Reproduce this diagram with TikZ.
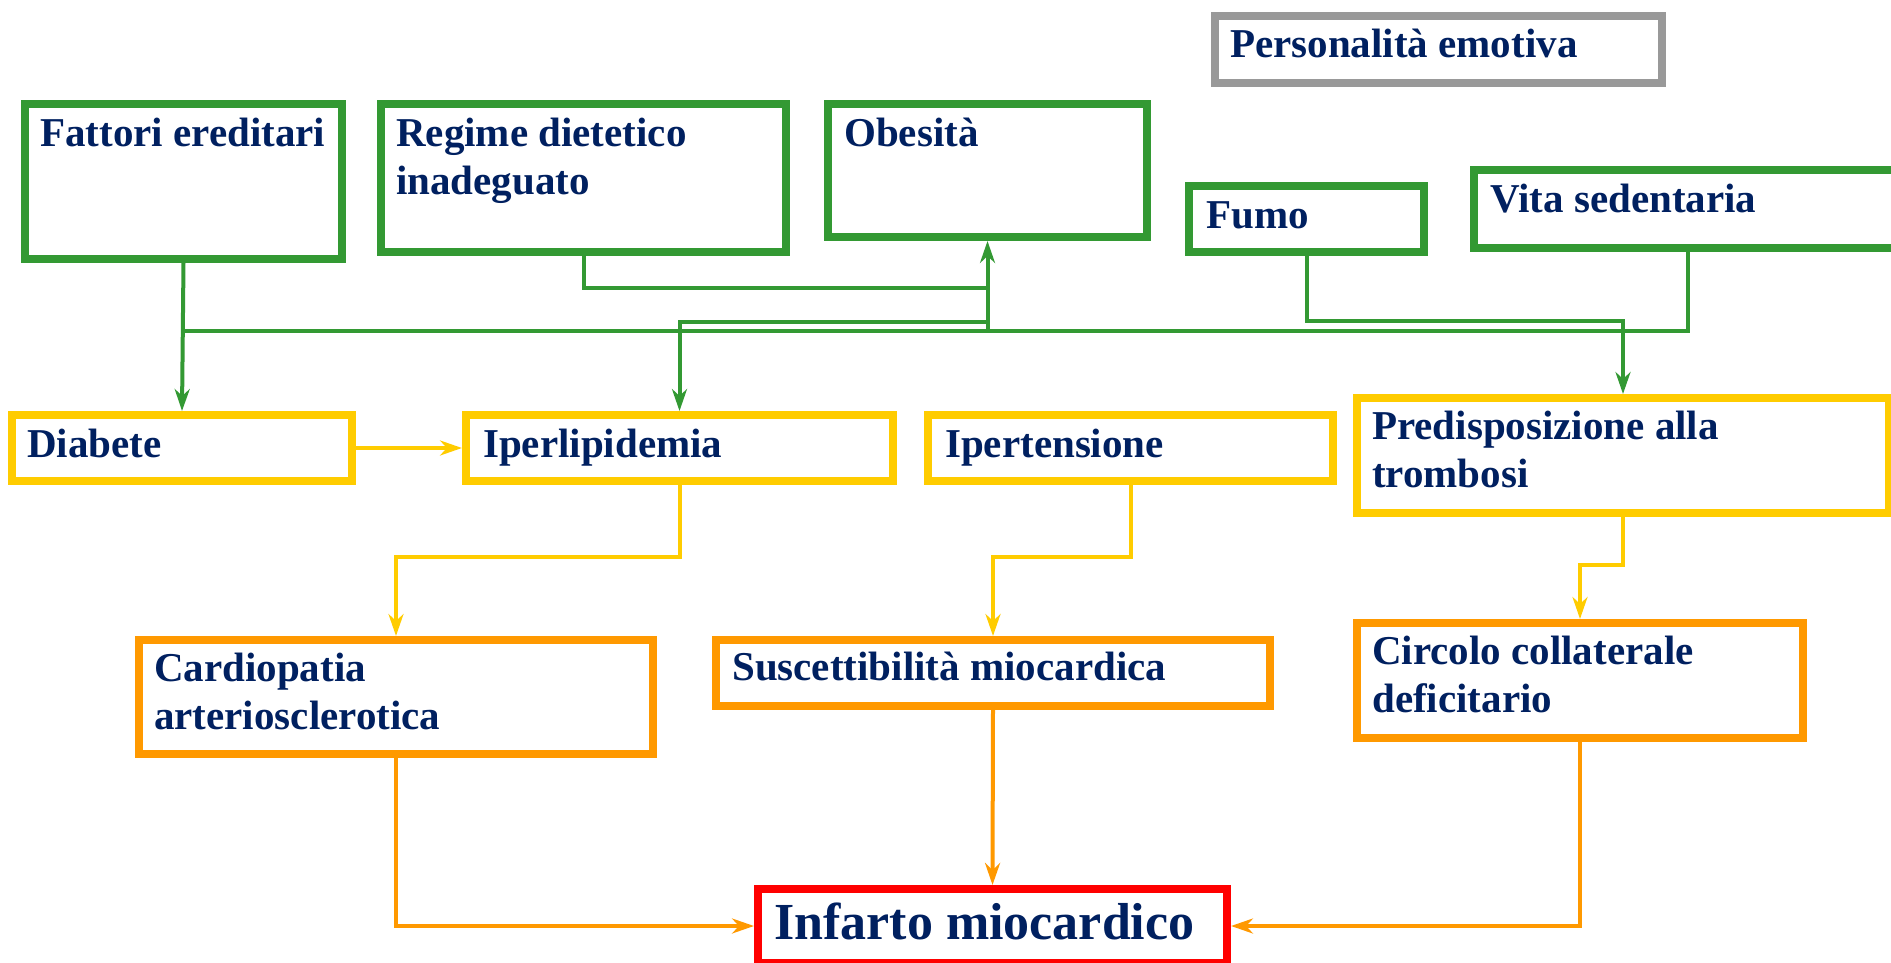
\documentclass[tikz,border=0pt]{standalone}
\usepackage{fontspec}
\setmainfont{Liberation Serif}
\usetikzlibrary{arrows.meta}
\definecolor{gr}{RGB}{51,153,51}
\definecolor{ye}{RGB}{255,204,0}
\definecolor{orc}{RGB}{255,153,0}
\definecolor{rd}{RGB}{255,0,0}
\definecolor{gy}{RGB}{153,153,153}
\definecolor{navy}{RGB}{0,32,96}
\tikzset{
 box/.style={draw=#1, line width=8pt, inner sep=0pt, anchor=north west, fill=white},
 lbl/.style={anchor=base west, inner sep=0pt, text=navy, font=\fontsize{41}{48}\selectfont\bfseries, align=left},
 conn/.style={draw=#1, line width=4pt, -{Stealth[length=22pt,width=15pt]}},
 plainc/.style={draw=#1, line width=4pt},
}
\begin{document}
\begin{tikzpicture}[x=1pt,y=-1pt]
\useasboundingbox[fill=white] (0,0) rectangle (1891,963);
% boxes
\node[box=gy, minimum width=447pt, minimum height=67pt] (pers) at (1211,12) {};
\node[box=gr, minimum width=317pt, minimum height=155pt] (fat) at (21,100) {};
\node[box=gr, minimum width=405pt, minimum height=148pt] (reg) at (377,100) {};
\node[box=gr, minimum width=319pt, minimum height=133pt] (obe) at (824,100) {};
\node[box=gr, minimum width=235pt, minimum height=66pt] (fumo) at (1185,182) {};
\node[box=gr, minimum width=428pt, minimum height=78pt] (vita) at (1470,166) {};
\node[box=ye, minimum width=340pt, minimum height=66pt] (dia) at (8,411) {};
\node[box=ye, minimum width=427pt, minimum height=66pt] (ipl) at (462,411) {};
\node[box=ye, minimum width=405pt, minimum height=66pt] (ipt) at (924,411) {};
\node[box=ye, minimum width=532pt, minimum height=115pt] (pred) at (1353,394) {};
\node[box=orc, minimum width=514pt, minimum height=114pt] (card) at (135,636) {};
\node[box=orc, minimum width=554pt, minimum height=66pt] (susc) at (712,636) {};
\node[box=orc, minimum width=446pt, minimum height=115pt] (circ) at (1353,619) {};
\node[box=rd, minimum width=469pt, minimum height=74pt] (inf) at (754,885) {};
% labels (multi-line ones are anchored at the baseline of their last line)
\node[lbl] (tpers) at (1230,58) {Personalità emotiva};
\node[lbl] (tfat) at (40,147) {Fattori ereditari};
\node[lbl] (treg) at (396,194) {Regime dietetico\\inadeguato};
\node[lbl] (tobe) at (844,147) {Obesità};
\node[lbl] (tfumo) at (1206,228) {Fumo};
\node[lbl] (tvita) at (1490,212) {Vita sedentaria};
\node[lbl] (tdia) at (27,457) {Diabete};
\node[lbl] (tipl) at (483,457) {Iperlipidemia};
\node[lbl] (tipt) at (945,457) {Ipertensione};
\node[lbl] (tpred) at (1372,487) {Predisposizione alla\\trombosi};
\node[lbl] (tcard) at (154,729) {Cardiopatia\\arteriosclerotica};
\node[lbl] (tsusc) at (732,680) {Suscettibilità miocardica};
\node[lbl] (tcirc) at (1372,712) {Circolo collaterale\\deficitario};
\node[lbl, font=\fontsize{52}{60}\selectfont\bfseries] (tinf) at (774,939) {Infarto miocardico};
% helper levels
\coordinate (hl) at (0,331);
\coordinate (rl) at (0,288);
\coordinate (il) at (0,322);
\coordinate (fl) at (0,321);
\coordinate (l557) at (0,557);
\coordinate (l565) at (0,565);
% green connectors
\draw[conn=gr] (fat.south) -- (dia.north);
\draw[plainc=gr] (fat.south |- hl) -- (vita.south |- hl) -- (vita.south);
\draw[conn=gr] (obe.south |- hl) -- (obe.south);
\draw[plainc=gr] (reg.south) |- (obe.south |- rl);
\draw[conn=gr] (obe.south |- il) -| (ipl.north);
\draw[conn=gr] (fumo.south) |- (pred.north |- fl) -- (pred.north);
% yellow connectors
\draw[conn=ye] (dia.east) -- (ipl.west);
\draw[conn=ye] (ipl.south) -- (ipl.south |- l557) -| (card.north);
\draw[conn=ye] (ipt.south) -- (ipt.south |- l557) -| (susc.north);
\draw[conn=ye] (pred.south) -- (pred.south |- l565) -| (circ.north);
% orange connectors
\draw[conn=orc] (card.south) |- (inf.west);
\draw[conn=orc] (susc.south) -- (inf.north);
\draw[conn=orc] (circ.south) |- (inf.east);
\end{tikzpicture}
\end{document}
